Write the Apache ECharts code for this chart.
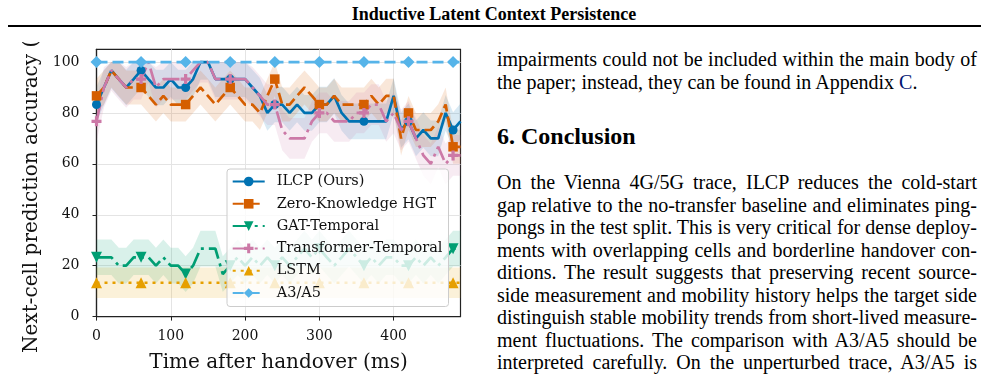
<!DOCTYPE html>
<html>
<head>
<meta charset="utf-8">
<script src="https://cdn.jsdelivr.net/npm/echarts@6/dist/echarts.min.js"></script>
<style>
html, body { margin: 0; padding: 0; background: #fff; }
body { width: 988px; height: 388px; position: relative; overflow: hidden;
       font-family: "Liberation Serif", "Times New Roman", serif; color: #000; }
#head { position: absolute; left: 0; top: 4px; width: 988px; text-align: center;
        font-weight: bold; font-size: 18px; line-height: 20px; }
#rule { position: absolute; left: 8px; top: 25px; width: 973px; height: 2px; background: #000; }
#chart { position: absolute; left: 0; top: 42px; width: 480px; height: 346px; }
.col { position: absolute; left: 497px; width: 480px; font-size: 20px; line-height: 22.5px; }
.col div { white-space: nowrap; }
.j { text-align: justify; text-align-last: justify; }
.ref { color: #001473; }
#sec { position: absolute; left: 497px; top: 122px; font-size: 24px; line-height: 28px; font-weight: bold; }
</style>
</head>
<body>
<div id="head">Inductive Latent Context Persistence</div>
<div id="rule"></div>
<div id="chart"></div>
<div class="col" style="top:48px">
  <div class="j">impairments could not be included within the main body of</div>
  <div>the paper; instead, they can be found in Appendix <span class="ref">C</span>.</div>
</div>
<div id="sec">6. Conclusion</div>
<div class="col" style="top:171px">
  <div class="j">On the Vienna 4G/5G trace, ILCP reduces the cold-start</div>
  <div class="j">gap relative to the no-transfer baseline and eliminates ping-</div>
  <div class="j">pongs in the test split. This is very critical for dense deploy-</div>
  <div class="j">ments with overlapping cells and borderline handover con-</div>
  <div class="j">ditions. The result suggests that preserving recent source-</div>
  <div class="j">side measurement and mobility history helps the target side</div>
  <div class="j">distinguish stable mobility trends from short-lived measure-</div>
  <div class="j">ment fluctuations. The comparison with A3/A5 should be</div>
  <div class="j">interpreted carefully. On the unperturbed trace, A3/A5 is</div>
</div>
<script>
// time after handover (ms)
var times = [0, 10, 20, 30, 40, 50, 60, 70, 80, 90, 100, 110, 120, 130, 140, 150, 160, 170, 180, 190,
  200, 210, 220, 230, 240, 250, 260, 270, 280, 290, 300, 310, 320, 330, 340, 350, 360, 370, 380, 390,
  400, 410, 420, 430, 440, 450, 460, 470, 480, 490];

// accuracy (%) per method
var ilcp = [83.3, 90, 96.7, 93.3, 90, 93.3, 96.7, 93.3, 90, 90, 93.3, 90, 90, 93.3, 100, 100, 93.3, 93.3, 93.3, 93.3,
  93.3, 90, 86.7, 80, 83.3, 83.3, 80, 83.3, 80, 80, 83.3, 83.3, 86.7, 80, 76.7, 76.7, 76.7, 76.7, 76.7, 76.7,
  86.7, 73.3, 76.7, 70, 73.3, 70, 70, 80, 73.3, 76.7];
var zkHgt = [86.7, 90, 96.7, 93.3, 90, 90, 90, 86.7, 83.3, 86.7, 83.3, 83.3, 83.3, 86.7, 90, 86.7, 83.3, 86.7, 90, 86.7,
  83.3, 83.3, 80, 86.7, 93.3, 83.3, 83.3, 86.7, 90, 86.7, 83.3, 83.3, 86.7, 83.3, 83.3, 83.3, 83.3, 86.7, 83.3, 86.7,
  86.7, 70, 80, 73.3, 73.3, 73.3, 76.7, 83.3, 66.7, 66.7];
var gatTemporal = [23.3, 23.3, 23.3, 20, 20, 23.3, 23.3, 23.3, 20, 23.3, 20, 20, 16.7, 20, 26.7, 26.7, 26.7, 16.7, 20, 23.3,
  20, 23.3, 20, 23.3, 20, 23.3, 20, 23.3, 26.7, 23.3, 26.7, 23.3, 20, 23.3, 26.7, 23.3, 20, 23.3, 20, 23.3,
  23.3, 20, 20, 23.3, 20, 23.3, 20, 23.3, 26.7, 26.7];
var transformerTemporal = [76.7, 90, 96.7, 93.3, 90, 93.3, 93.3, 100, 90, 93.3, 93.3, 93.3, 93.3, 96.7, 100, 100, 93.3, 93.3, 93.3, 93.3,
  93.3, 90, 86.7, 83.3, 83.3, 73.3, 70, 70, 70, 76.7, 80, 80, 76.7, 76.7, 76.7, 80, 80, 83.3, 83.3, 76.7,
  80, 73.3, 76.7, 70, 63.3, 60, 66.7, 60, 63.3, 63.3];
var lstm = [13.3, 13.3, 13.3, 13.3, 13.3, 13.3, 13.3, 13.3, 13.3, 13.3, 13.3, 13.3, 13.3, 13.3, 13.3, 13.3, 13.3, 13.3, 13.3, 13.3,
  13.3, 13.3, 13.3, 13.3, 13.3, 13.3, 13.3, 13.3, 13.3, 13.3, 13.3, 13.3, 13.3, 13.3, 13.3, 13.3, 13.3, 13.3, 13.3, 13.3,
  13.3, 13.3, 13.3, 13.3, 13.3, 13.3, 13.3, 13.3, 13.3, 13.3];
var a3a5 = [100, 100, 100, 100, 100, 100, 100, 100, 100, 100, 100, 100, 100, 100, 100, 100, 100, 100, 100, 100,
  100, 100, 100, 100, 100, 100, 100, 100, 100, 100, 100, 100, 100, 100, 100, 100, 100, 100, 100, 100,
  100, 100, 100, 100, 100, 100, 100, 100, 100, 100];

// half width of the shaded band, same order as names
var bandSpread = [7, 6.7, 7, 8, 6, 0];
var names = ['ILCP (Ours)', 'Zero-Knowledge HGT', 'GAT-Temporal', 'Transformer-Temporal', 'LSTM', 'A3/A5'];
var xTicks = [0, 100, 200, 300, 400];
var yTicks = [0, 20, 40, 60, 80, 100];

var colors = ['#0072B2', '#D55E00', '#009E73', '#CC79A7', '#E69F00', '#56B4E9'];
var allVals = [ilcp, zkHgt, gatTemporal, transformerTemporal, lstm, a3a5];
var dashes = ['solid', [11, 5], [17, 5, 3, 5], [17, 5, 3, 5], [3, 5], [11, 5]];
var symbols = ['circle', 'rect', 'path://M0,0L10,0L5,8.66Z',
  'path://M3.4,0H6.6V3.4H10V6.6H6.6V10H3.4V6.6H0V3.4H3.4Z', 'triangle', 'diamond'];
var symSizes = [9, 9.5, 11, 10, 11, 12];

function rgba(hex, a) {
  var n = parseInt(hex.slice(1), 16);
  return 'rgba(' + (n >> 16) + ',' + ((n >> 8) & 255) + ',' + (n & 255) + ',' + a + ')';
}

function pairs(vals) {
  return times.map(function (t, i) { return [t, vals[i]]; });
}

function bandSeries(vals, spread, color) {
  return {
    type: 'custom',
    silent: true,
    z: 1,
    data: pairs(vals),
    encode: { x: 0, y: 1 },
    renderItem: function (params, api) {
      if (params.dataIndex !== 0) return;
      var up = [], lo = [];
      for (var i = 0; i < times.length; i++) {
        up.push(api.coord([times[i], Math.min(vals[i] + spread, 100)]));
        lo.unshift(api.coord([times[i], Math.max(vals[i] - spread, 0)]));
      }
      return {
        type: 'polygon',
        shape: { points: up.concat(lo) },
        style: { fill: rgba(color, 0.15) }
      };
    }
  };
}

var series = [];
for (var k = 0; k < names.length; k++) {
  if (bandSpread[k] > 0) series.push(bandSeries(allVals[k], bandSpread[k], colors[k]));
}
for (var k = 0; k < names.length; k++) {
  (function (k) {
    series.push({
      name: names[k],
      type: 'line',
      z: 3,
      data: pairs(allVals[k]),
      symbol: symbols[k],
      showAllSymbol: true,
      symbolSize: function (v, p) { return p.dataIndex % 6 === 0 ? symSizes[k] : 0; },
      lineStyle: { color: colors[k], width: 2.7, type: dashes[k] },
      itemStyle: { color: colors[k] },
      emphasis: { disabled: true }
    });
  })(k);
}

var chart = echarts.init(document.getElementById('chart'));
chart.setOption({
  animation: false,
  textStyle: { fontFamily: 'DejaVu Serif' },
  grid: {
    left: 96.5, top: 7.3, width: 364, height: 267.3,
    show: true, borderColor: '#222', borderWidth: 1.2,
    containLabel: false, outerBoundsMode: 'none'
  },
  legend: {
    data: names,
    orient: 'vertical',
    left: 227, top: 127,
    padding: [4.5, 6, 5.5, 4.7],
    itemWidth: 32, itemHeight: 12, itemGap: 6.3,
    backgroundColor: 'rgba(255,255,255,0.8)',
    borderColor: '#cccccc', borderWidth: 1, borderRadius: 3,
    selectedMode: false,
    textStyle: { fontFamily: 'DejaVu Serif', fontSize: 14.5, color: '#111', lineHeight: 16, padding: [0, 0, 0, 7] }
  },
  xAxis: {
    type: 'value', min: 0, max: 490, interval: 100,
    name: 'Time after handover (ms)', nameLocation: 'middle', nameGap: 36,
    nameTextStyle: { fontFamily: 'DejaVu Serif', fontSize: 20, color: '#111' },
    axisLine: { show: true, onZero: false, lineStyle: { color: '#222', width: 1.2 } },
    axisTick: { show: true, inside: false, length: 4, lineStyle: { color: '#222' }, customValues: xTicks },
    axisLabel: { fontFamily: 'DejaVu Serif', fontSize: 14, color: '#111', margin: 13, customValues: xTicks },
    splitLine: { show: true, lineStyle: { color: '#e4e4e4', width: 1 } }
  },
  yAxis: {
    type: 'value', min: 0, max: 105, interval: 20,
    name: 'Next-cell prediction accuracy (%)', nameLocation: 'middle', nameGap: 52, nameRotate: 90,
    nameTextStyle: { fontFamily: 'DejaVu Serif', fontSize: 20, color: '#111' },
    axisLine: { show: true, onZero: false, lineStyle: { color: '#222', width: 1.2 } },
    axisTick: { show: true, inside: false, length: 4, lineStyle: { color: '#222' }, customValues: yTicks },
    axisLabel: { fontFamily: 'DejaVu Serif', fontSize: 14, color: '#111', margin: 17, customValues: yTicks },
    splitLine: { show: true, lineStyle: { color: '#e4e4e4', width: 1 } }
  },
  series: series
});
</script>
</body>
</html>
